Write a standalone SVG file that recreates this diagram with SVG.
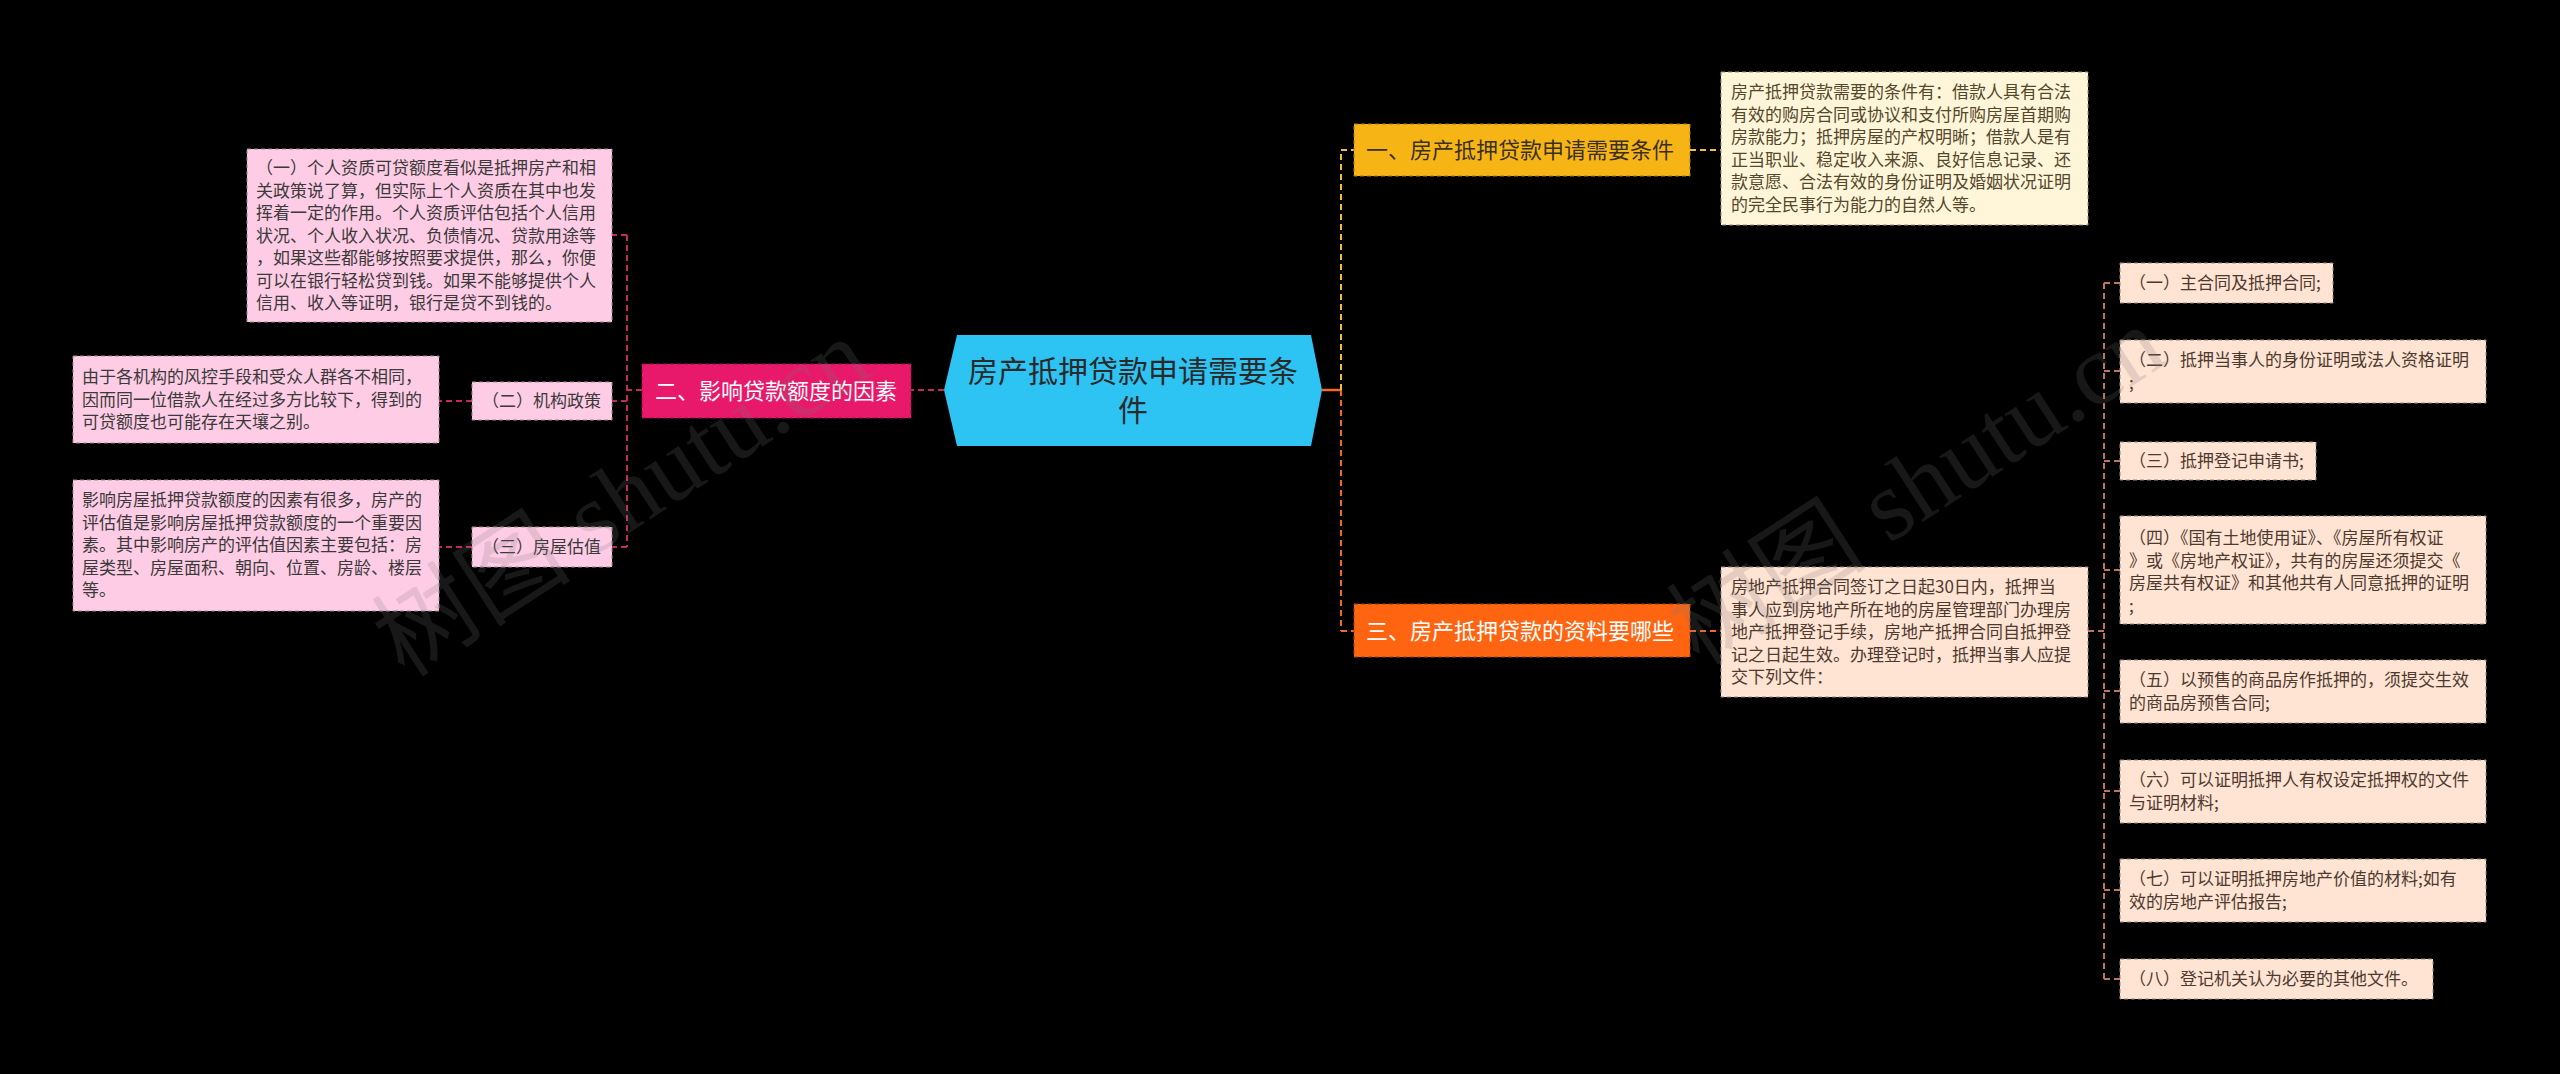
<svg xmlns="http://www.w3.org/2000/svg" width="2560" height="1074" viewBox="0 0 2560 1074">
<style>
text{font-family:"Noto Sans CJK SC","Liberation Sans",sans-serif}
.t17{font-size:17px}
.pink{fill:#FFCCE5;stroke:#9a8a92;stroke-width:1;stroke-dasharray:4 3}
.cream{fill:#FFF6D9;stroke:#9a937a;stroke-width:1;stroke-dasharray:4 3}
.peach{fill:#FFE3D3;stroke:#9a8a80;stroke-width:1;stroke-dasharray:4 3}
.tp{fill:#3a3a3a}
.tc{fill:#54472c}
.tr{fill:#4d3a2f}
.cm{fill:none;stroke:#C2295F;stroke-width:2;stroke-dasharray:6 4}
.cy{fill:none;stroke:#F2C13A;stroke-width:2;stroke-dasharray:6 4}
.co{fill:none;stroke:#F26A23;stroke-width:2;stroke-dasharray:6 4}
.cb{fill:none;stroke:#C27556;stroke-width:2;stroke-dasharray:6 4}
.wm{font-family:"Liberation Serif","Noto Sans CJK SC",serif;font-size:100px;fill:#777;fill-opacity:0.2}
</style>
<rect width="2560" height="1074" fill="#000"/>
<g id="connectors">
<line class="cm" x1="944" y1="390" x2="911" y2="390"/>
<line class="cm" x1="642" y1="390" x2="627" y2="390"/>
<line class="cm" x1="627" y1="235" x2="627" y2="547"/>
<line class="cm" x1="627" y1="235" x2="612" y2="235"/>
<line class="cm" x1="627" y1="401" x2="612" y2="401"/>
<line class="cm" x1="627" y1="547" x2="612" y2="547"/>
<line class="cm" x1="472" y1="401" x2="439" y2="401"/>
<line class="cm" x1="472" y1="547" x2="439" y2="547"/>
<line x1="1322" y1="390" x2="1341" y2="390" stroke="#F26A23" stroke-width="2.5"/>
<line class="cy" x1="1341" y1="390" x2="1341" y2="150"/>
<line class="cy" x1="1341" y1="150" x2="1354" y2="150"/>
<line class="co" x1="1341" y1="390" x2="1341" y2="631"/>
<line class="co" x1="1341" y1="631" x2="1354" y2="631"/>
<line class="cy" x1="1690" y1="150" x2="1721" y2="150"/>
<line class="co" x1="1690" y1="631" x2="1721" y2="631"/>
<line class="cb" x1="2088" y1="631" x2="2104" y2="631"/>
<line class="cb" x1="2104" y1="283" x2="2104" y2="979"/>
<line class="cb" x1="2104" y1="283" x2="2120" y2="283"/>
<line class="cb" x1="2104" y1="371" x2="2120" y2="371"/>
<line class="cb" x1="2104" y1="461" x2="2120" y2="461"/>
<line class="cb" x1="2104" y1="570" x2="2120" y2="570"/>
<line class="cb" x1="2104" y1="691" x2="2120" y2="691"/>
<line class="cb" x1="2104" y1="791" x2="2120" y2="791"/>
<line class="cb" x1="2104" y1="890" x2="2120" y2="890"/>
<line class="cb" x1="2104" y1="979" x2="2120" y2="979"/>
</g>
<g id="root">
<polygon points="944,390 957,335 1311,335 1322,390 1311,446 957,446" fill="#2DC3F3"/>
<text x="1133" y="382" text-anchor="middle" font-size="30" fill="#2a2a2a">房产抵押贷款申请需要条</text>
<text x="1133" y="421" text-anchor="middle" font-size="30" fill="#2a2a2a">件</text>
</g>
<g id="n2">
<rect x="642" y="364" width="269" height="54" fill="#E8186B" stroke="#a0104a" stroke-dasharray="4 3"/>
<text x="655" y="399" font-size="22" fill="#fff">二、影响贷款额度的因素</text>
</g>
<g id="n2-1">
<rect class="pink" x="247" y="149" width="365" height="173"/>
<text class="t17 tp" x="256" y="174">（一）个人资质可贷额度看似是抵押房产和相</text>
<text class="t17 tp" x="256" y="196.5">关政策说了算，但实际上个人资质在其中也发</text>
<text class="t17 tp" x="256" y="219">挥着一定的作用。个人资质评估包括个人信用</text>
<text class="t17 tp" x="256" y="241.5">状况、个人收入状况、负债情况、贷款用途等</text>
<text class="t17 tp" x="256" y="264">，如果这些都能够按照要求提供，那么，你便</text>
<text class="t17 tp" x="256" y="286.5">可以在银行轻松贷到钱。如果不能够提供个人</text>
<text class="t17 tp" x="256" y="309">信用、收入等证明，银行是贷不到钱的。</text>
</g>
<g id="n2-2">
<rect class="pink" x="472" y="382" width="140" height="38"/>
<text class="t17 tp" x="482" y="407">（二）机构政策</text>
</g>
<g id="n2-2-1">
<rect class="pink" x="73" y="356" width="366" height="87"/>
<text class="t17 tp" x="82" y="383">由于各机构的风控手段和受众人群各不相同，</text>
<text class="t17 tp" x="82" y="405.5">因而同一位借款人在经过多方比较下，得到的</text>
<text class="t17 tp" x="82" y="428">可贷额度也可能存在天壤之别。</text>
</g>
<g id="n2-3">
<rect class="pink" x="472" y="527" width="140" height="40"/>
<text class="t17 tp" x="482" y="553">（三）房屋估值</text>
</g>
<g id="n2-3-1">
<rect class="pink" x="73" y="480" width="366" height="131"/>
<text class="t17 tp" x="82" y="506">影响房屋抵押贷款额度的因素有很多，房产的</text>
<text class="t17 tp" x="82" y="528.5">评估值是影响房屋抵押贷款额度的一个重要因</text>
<text class="t17 tp" x="82" y="551">素。其中影响房产的评估值因素主要包括：房</text>
<text class="t17 tp" x="82" y="573.5">屋类型、房屋面积、朝向、位置、房龄、楼层</text>
<text class="t17 tp" x="82" y="596">等。</text>
</g>
<g id="n1">
<rect x="1354" y="124" width="336" height="52" fill="#F7B515" stroke="#a87c0e" stroke-dasharray="4 3"/>
<text x="1366" y="158" font-size="22" fill="#3a3020">一、房产抵押贷款申请需要条件</text>
</g>
<g id="n1-1">
<rect class="cream" x="1721" y="72" width="367" height="153"/>
<text class="t17 tc" x="1731" y="98">房产抵押贷款需要的条件有：借款人具有合法</text>
<text class="t17 tc" x="1731" y="120.5">有效的购房合同或协议和支付所购房屋首期购</text>
<text class="t17 tc" x="1731" y="143">房款能力；抵押房屋的产权明晰；借款人是有</text>
<text class="t17 tc" x="1731" y="165.5">正当职业、稳定收入来源、良好信息记录、还</text>
<text class="t17 tc" x="1731" y="188">款意愿、合法有效的身份证明及婚姻状况证明</text>
<text class="t17 tc" x="1731" y="210.5">的完全民事行为能力的自然人等。</text>
</g>
<g id="n3">
<rect x="1354" y="604" width="336" height="53" fill="#FF6411" stroke="#a8420b" stroke-dasharray="4 3"/>
<text x="1366" y="639" font-size="22" fill="#fff">三、房产抵押贷款的资料要哪些</text>
</g>
<g id="n3-1">
<rect class="peach" x="1721" y="567" width="367" height="130"/>
<text class="t17 tr" x="1731" y="593">房地产抵押合同签订之日起30日内，抵押当</text>
<text class="t17 tr" x="1731" y="615.5">事人应到房地产所在地的房屋管理部门办理房</text>
<text class="t17 tr" x="1731" y="638">地产抵押登记手续，房地产抵押合同自抵押登</text>
<text class="t17 tr" x="1731" y="660.5">记之日起生效。办理登记时，抵押当事人应提</text>
<text class="t17 tr" x="1731" y="683">交下列文件：</text>
</g>
<g id="c1">
<rect class="peach" x="2120" y="263" width="213" height="40"/>
<text class="t17 tr" x="2129" y="289">（一）主合同及抵押合同;</text>
</g>
<g id="c2">
<rect class="peach" x="2120" y="340" width="366" height="63"/>
<text class="t17 tr" x="2129" y="366">（二）抵押当事人的身份证明或法人资格证明</text>
<text class="t17 tr" x="2129" y="388.5">;</text>
</g>
<g id="c3">
<rect class="peach" x="2120" y="442" width="196" height="38"/>
<text class="t17 tr" x="2129" y="467">（三）抵押登记申请书;</text>
</g>
<g id="c4">
<rect class="peach" x="2120" y="516" width="366" height="108"/>
<text class="t17 tr" x="2129" y="544">（四）《国有土地使用证》、《房屋所有权证</text>
<text class="t17 tr" x="2129" y="566.5">》或《房地产权证》，共有的房屋还须提交《</text>
<text class="t17 tr" x="2129" y="589">房屋共有权证》和其他共有人同意抵押的证明</text>
<text class="t17 tr" x="2129" y="611.5">;</text>
</g>
<g id="c5">
<rect class="peach" x="2120" y="660" width="366" height="63"/>
<text class="t17 tr" x="2129" y="686">（五）以预售的商品房作抵押的，须提交生效</text>
<text class="t17 tr" x="2129" y="708.5">的商品房预售合同;</text>
</g>
<g id="c6">
<rect class="peach" x="2120" y="760" width="366" height="63"/>
<text class="t17 tr" x="2129" y="786">（六）可以证明抵押人有权设定抵押权的文件</text>
<text class="t17 tr" x="2129" y="808.5">与证明材料;</text>
</g>
<g id="c7">
<rect class="peach" x="2120" y="859" width="366" height="63"/>
<text class="t17 tr" x="2129" y="885">（七）可以证明抵押房地产价值的材料;如有</text>
<text class="t17 tr" x="2129" y="907.5">效的房地产评估报告;</text>
</g>
<g id="c8">
<rect class="peach" x="2120" y="959" width="313" height="40"/>
<text class="t17 tr" x="2129" y="985">（八）登记机关认为必要的其他文件。</text>
</g>
<g id="watermark">
<text class="wm" x="640" y="526" text-anchor="middle" transform="rotate(-33 640 526)">树图 shutu.cn</text>
<text class="wm" x="1935" y="514" text-anchor="middle" transform="rotate(-33 1935 514)">树图 shutu.cn</text>
</g>
</svg>
